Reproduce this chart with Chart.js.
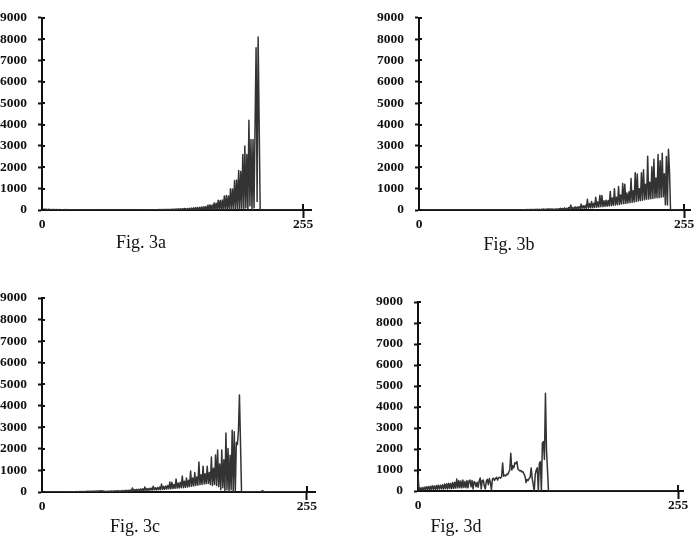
<!DOCTYPE html>
<html><head><meta charset="utf-8">
<script src="https://cdn.jsdelivr.net/npm/chart.js@4.4.1/dist/chart.umd.min.js"></script>
<style>
html,body{margin:0;padding:0;background:#fff;}
body{width:697px;height:539px;position:relative;overflow:hidden;}
canvas{position:absolute;}
.cap{position:absolute;font-family:"Liberation Serif","Times New Roman",serif;font-size:18px;line-height:18px;color:#111;white-space:nowrap;transform:translateX(-50%);}
</style></head><body>
<canvas id="c0" width="340" height="240" style="left:0px;top:0px"></canvas>
<canvas id="c1" width="352" height="240" style="left:345px;top:0px"></canvas>
<canvas id="c2" width="340" height="250" style="left:0px;top:270px"></canvas>
<canvas id="c3" width="352" height="250" style="left:345px;top:270px"></canvas>
<div class="cap" id="t0" style="left:141px;top:233px"></div>
<div class="cap" id="t1" style="left:509px;top:235px"></div>
<div class="cap" id="t2" style="left:135px;top:517px"></div>
<div class="cap" id="t3" style="left:456px;top:517px"></div>
<script>
// ---- data (pixel counts per grey level) ----
const greyLevels = Array.from({length: 256}, (_, i) => i);
const xTickValues = [0, 255];
const yTickValues = [0, 1000, 2000, 3000, 4000, 5000, 6000, 7000, 8000, 9000];
const captions = ['Fig. 3a', 'Fig. 3b', 'Fig. 3c', 'Fig. 3d'];

const fig3aCounts = [
 40,25,30,20,35,15,25,30,20,15,
 20,10,25,15,20,10,15,20,10,15,
 10,15,10,20,10,15,10,5,15,10,
 10,5,10,15,5,10,5,10,5,10,
 5,10,5,5,10,5,5,10,5,5,
 5,5,10,5,0,5,5,0,5,5,
 0,5,0,5,0,5,0,0,5,0,
 0,5,0,0,5,0,0,5,0,0,
 5,0,0,5,0,0,5,0,5,0,
 5,0,5,0,10,0,5,0,10,5,
 5,10,0,10,5,10,0,15,5,10,
 10,15,5,15,10,20,5,20,10,25,
 10,25,15,30,10,30,15,35,10,40,
 20,45,15,50,25,55,20,60,30,70,
 60,10,70,15,80,10,90,20,100,15,
 110,20,120,10,130,30,140,20,150,30,
 160,20,230,10,240,20,230,10,330,20,
 320,10,460,20,450,10,470,30,660,20,
 680,30,650,40,1000,30,980,50,1380,40,
 1400,60,1850,50,1800,80,2600,60,3000,100,
 2600,0,4200,200,3300,0,3300,100,4000,7600,
 400,8100,4000,0,10,0,5,0,0,10,
 0,5,0,0,5,0,0,0,5,0,
 0,0,5,0,0,0,0,5,0,0,
 0,5,0,0,0,0,5,0,0,0,
 0,0,5,0,0,0
];

const fig3bCounts = [
 10,5,5,10,5,5,10,5,5,5,
 5,5,10,5,5,5,5,10,5,5,
 5,5,5,5,10,5,5,5,5,5,
 5,10,5,5,5,5,5,5,10,5,
 5,5,5,5,5,10,5,5,5,5,
 5,5,10,5,5,5,5,5,5,10,
 5,5,5,5,5,5,10,5,5,5,
 5,10,5,5,5,5,10,5,5,5,
 10,5,5,5,10,5,5,10,5,5,
 10,5,10,5,10,5,15,5,10,5,
 15,5,15,10,20,5,20,10,25,10,
 25,10,30,15,40,10,30,15,35,20,
 45,15,40,20,60,20,45,25,50,20,
 40,15,50,20,60,20,80,30,70,30,
 100,30,80,30,120,40,230,40,110,50,
 150,50,140,60,160,60,275,70,200,80,
 220,80,500,90,300,100,400,110,320,120,
 600,130,380,140,690,150,680,160,430,170,
 460,180,450,190,870,200,560,220,1000,230,
 600,250,1100,260,700,280,1240,300,1200,310,
 800,330,850,340,1470,360,900,380,1740,400,
 1680,420,1000,440,1740,460,1880,480,1200,500,
 2520,510,1300,530,2020,540,2380,560,1500,570,
 2600,580,2300,600,2660,620,1700,250,2500,230,
 2840,1800,0,0,0,0,0,0,0,0,
 0,0,0,0,0,0
];

const fig3cCounts = [
 10,5,10,5,10,5,5,10,5,5,
 10,5,5,10,5,5,10,5,10,5,
 10,5,10,15,5,10,15,5,10,15,
 10,15,10,20,10,15,20,10,20,15,
 20,15,25,20,30,20,35,25,40,30,
 40,25,45,30,50,35,55,30,60,40,
 20,30,15,35,20,40,25,45,20,50,
 30,55,25,60,30,50,35,65,30,70,
 40,75,35,80,45,90,40,190,50,110,
 60,120,55,130,70,140,65,150,60,230,
 80,160,75,170,90,180,85,270,100,200,
 95,210,110,230,105,370,120,260,130,280,
 140,300,150,460,150,450,160,350,170,600,
 180,420,190,450,200,740,200,500,210,650,
 230,550,250,970,270,650,280,900,300,700,
 320,1390,340,800,350,1200,370,850,380,1200,
 400,900,350,1620,300,1100,350,1720,300,1950,
 250,1300,100,1950,200,1500,50,2740,100,2020,
 0,1700,100,2870,0,2800,0,2300,2200,2800,
 4500,2300,0,10,0,5,10,0,5,0,
 5,0,5,0,10,0,5,0,0,10,
 5,20,60,40,10,0,5,0,0,5,
 0,0,5,0,0,5,0,0,0,5,
 0,0,0,5,0,0,0,0,5,0,
 0,0,0,0,5,0,0,0,0,0,
 0,5,0,0,0,0
];

const fig3dCounts = [
 800,60,150,40,170,50,180,60,200,70,
 210,60,230,70,250,80,240,70,260,80,
 280,90,270,100,300,90,330,110,350,100,
 370,120,360,110,400,130,420,140,570,150,
 500,160,480,150,520,170,450,160,500,150,
 470,520,200,500,100,450,380,200,420,180,
 480,620,100,500,520,250,100,470,560,300,
 590,400,50,570,610,500,600,650,520,630,
 650,610,680,1330,700,750,720,800,780,900,
 1000,1800,1000,1200,1100,1350,1300,1400,1050,1000,
 950,980,900,920,800,700,400,550,500,600,
 650,1100,600,300,0,800,1000,1100,0,1300,
 1400,0,2300,2350,1500,4650,2000,1000,0,0,
 0,0,0,0,0,0,0,0,0,0,
 0,0,0,0,0,0,0,0,0,0,
 0,0,0,0,0,0,0,0,0,0,
 0,0,0,0,0,0,0,0,0,0,
 0,0,0,0,0,0,0,0,0,0,
 0,0,0,0,0,0,0,0,0,0,
 0,0,0,0,0,0,0,0,0,0,
 0,0,0,0,0,0,0,0,0,0,
 0,0,0,0,0,0,0,0,0,0,
 0,0,0,0,0,0,0,0,0,0,
 0,0,0,0,0,0,0,0,0,0,
 0,0,0,0,0,0,0,0,0,0,
 0,0,0,0,0,0
];

// ---- layout of each panel (canvas-relative) ----
const FONT = "'Liberation Serif','Times New Roman',serif";
const panels = [
  {id:'c0', counts:fig3aCounts, yAxisWidth:42, padTop:15, padRight:28.8, xAxisHeight:30, xMax:262.8},
  {id:'c1', counts:fig3bCounts, yAxisWidth:74, padTop:14, padRight:6.7, xAxisHeight:30, xMax:261},
  {id:'c2', counts:fig3cCounts, yAxisWidth:42, padTop:28, padRight:25, xAxisHeight:28, xMax:262.7},
  {id:'c3', counts:fig3dCounts, yAxisWidth:73, padTop:32, padRight:13.9, xAxisHeight:29, xMax:260}
];

const crossTicks = {
  id: 'crossTicks',
  afterDraw(chart) {
    const {ctx, chartArea, scales} = chart;
    const x = scales.x, y = scales.y;
    ctx.save();
    ctx.strokeStyle = '#111';
    ctx.lineWidth = 2;
    y.ticks.forEach(t => {
      const py = Math.round(y.getPixelForValue(t.value));
      ctx.beginPath(); ctx.moveTo(chartArea.left, py); ctx.lineTo(chartArea.left + 3, py); ctx.stroke();
    });
    x.ticks.forEach(t => {
      if (t.value !== 255) return;
      const px = Math.round(x.getPixelForValue(t.value));
      ctx.beginPath(); ctx.moveTo(px, chartArea.bottom - 6); ctx.lineTo(px, chartArea.bottom); ctx.stroke();
    });
    ctx.restore();
  }
};

panels.forEach((p, k) => {
  document.getElementById('t' + k).textContent = captions[k];
  new Chart(document.getElementById(p.id), {
    type: 'line',
    data: {
      datasets: [{
        data: p.counts.map((c, i) => ({x: greyLevels[i], y: c})),
        borderColor: '#333333',
        borderWidth: 1.5,
        borderJoinStyle: 'round',
        pointRadius: 0,
        tension: 0,
        fill: false
      }]
    },
    options: {
      responsive: false,
      animation: false,
      events: [],
      layout: {padding: {left: 0, top: p.padTop, right: p.padRight, bottom: 0}},
      plugins: {legend: {display: false}, tooltip: {enabled: false}, title: {display: false}},
      scales: {
        x: {
          type: 'linear', min: 0, max: p.xMax,
          afterBuildTicks: s => { s.ticks = xTickValues.map(v => ({value: v})); },
          afterFit: s => { s.height = p.xAxisHeight; },
          ticks: {autoSkip: false, maxRotation: 0, padding: 0, color: '#111',
                  font: {family: FONT, size: 13.5, weight: 'bold', lineHeight: 1},
                  callback: v => String(v)},
          grid: {drawOnChartArea: false, drawTicks: true, tickLength: 8, tickWidth: 2,
                 tickColor: ctx => (ctx.tick && ctx.tick.value === 255) ? '#111' : 'rgba(0,0,0,0)'},
          border: {display: true, color: '#111', width: 2}
        },
        y: {
          type: 'linear', min: 0, max: 9000,
          afterBuildTicks: s => { s.ticks = yTickValues.map(v => ({value: v})); },
          afterFit: s => { s.width = p.yAxisWidth; },
          ticks: {padding: 11, color: '#111',
                  font: {family: FONT, size: 13.5, weight: 'bold', lineHeight: 1},
                  callback: v => String(v)},
          grid: {drawOnChartArea: false, drawTicks: true, tickLength: 4, tickWidth: 2, tickColor: '#111'},
          border: {display: true, color: '#111', width: 2}
        }
      }
    },
    plugins: [crossTicks]
  });
});
</script>
</body></html>
